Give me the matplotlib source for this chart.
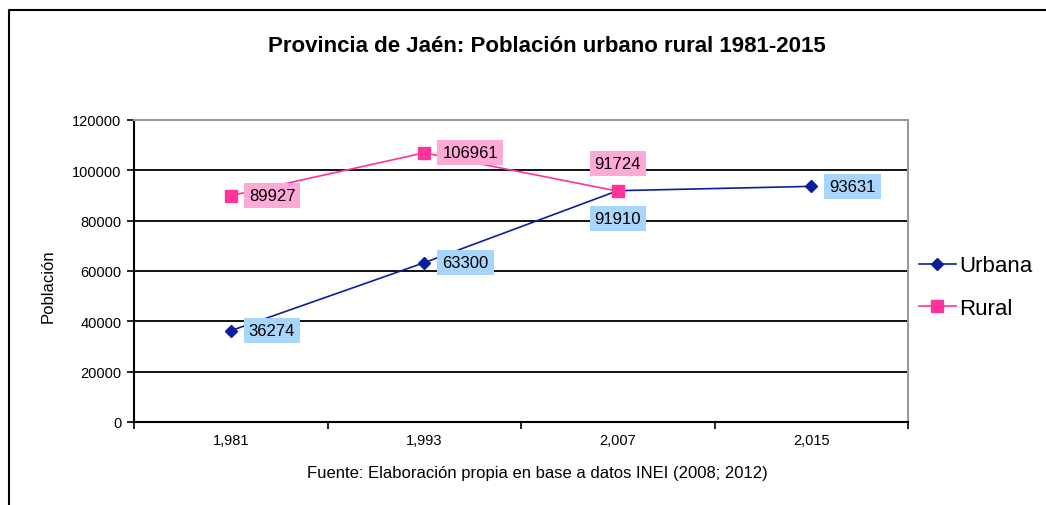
import matplotlib

matplotlib.use("Agg")
import matplotlib.pyplot as plt
from matplotlib.lines import Line2D

plt.rcParams["font.family"] = ["Liberation Sans", "DejaVu Sans"]

years = ["1,981", "1,993", "2,007", "2,015"]
urbana = [36274, 63300, 91910, 93631]
rural = [89927, 106961, 91724]
y_ticks = [0, 20000, 40000, 60000, 80000, 100000, 120000]

title = "Provincia de Jaén: Población urbano rural 1981-2015"
source = "Fuente: Elaboración propia en base a datos INEI (2008; 2012)"

BLUE = "#0b1f9e"
PINK = "#ff3399"
BLUE_BOX = "#a8d5fb"
PINK_BOX = "#ffaad6"

fig = plt.figure(figsize=(10.46, 5.06), dpi=100)
ax = fig.add_axes([134 / 1046, 83 / 506, 774 / 1046, 302 / 506])

xu = list(range(len(urbana)))
xr = list(range(len(rural)))
ax.plot(xu, urbana, color=BLUE, lw=1.2, marker="D", ms=6, label="Urbana", zorder=4)
ax.plot(xr, rural, color=PINK, lw=1.2, marker="s", ms=8, label="Rural", zorder=4)

# data labels: (offset in points, ha, va)
u_off = [((13, 0), "left", "center"), ((13, 0), "left", "center"),
         ((0, -20), "center", "center"), ((13, 0), "left", "center")]
r_off = [((13, 0), "left", "center"), ((13, 0), "left", "center"),
         ((0, 20), "center", "center")]
for x, v, (off, ha, va) in zip(xu, urbana, u_off):
    ax.annotate(str(v), (x, v), xytext=off, textcoords="offset points", ha=ha, va=va,
                fontsize=12, zorder=5,
                bbox=dict(boxstyle="square,pad=0.3", fc=BLUE_BOX, ec="none"))
for x, v, (off, ha, va) in zip(xr, rural, r_off):
    ax.annotate(str(v), (x, v), xytext=off, textcoords="offset points", ha=ha, va=va,
                fontsize=12, zorder=5,
                bbox=dict(boxstyle="square,pad=0.3", fc=PINK_BOX, ec="none"))

ax.set_ylim(y_ticks[0], y_ticks[-1])
ax.set_xlim(-0.5, len(years) - 0.5)
for t in y_ticks[1:-1]:
    ax.axhline(t, color="black", lw=1.3, zorder=1)

ax.set_yticks(y_ticks)
ax.set_yticklabels([str(t) for t in y_ticks], fontsize=10.5)
ax.set_xticks([i - 0.5 for i in range(len(years) + 1)])
ax.set_xticklabels([])
ax.set_xticks(range(len(years)), minor=True)
ax.set_xticklabels(years, minor=True, fontsize=10.5)
ax.tick_params(axis="both", which="major", direction="out", length=5, width=1.2, color="black")
ax.tick_params(axis="x", which="minor", length=0, pad=8)
ax.tick_params(axis="y", pad=4)

for s in ("left", "bottom"):
    ax.spines[s].set_color("black")
    ax.spines[s].set_linewidth(1.5)
for s in ("top", "right"):
    ax.spines[s].set_color("#999999")
    ax.spines[s].set_linewidth(1.5)

fig.text(547 / 1046, 1 - 46 / 506, title, ha="center", va="center", fontsize=16, fontweight="bold")
fig.text(48 / 1046, 1 - 286 / 506, "Población", rotation=90, ha="center", va="center", fontsize=12)
fig.text(537 / 1046, 1 - 474 / 506, source, ha="center", va="center", fontsize=12)

fig.legend(loc="center left", bbox_to_anchor=(919 / 1046, 1 - 288 / 506), frameon=False,
           fontsize=16, handlelength=1.65, handletextpad=0.15, labelspacing=0.95,
           borderaxespad=0, borderpad=0)

# outer chart frame (left and top edges)
fig.add_artist(Line2D([9 / 1046, 9 / 1046, 1.0], [0.0, 1 - 11 / 506, 1 - 11 / 506],
                      transform=fig.transFigure, color="black", lw=1.5))

fig.savefig("out.png", dpi=100)
